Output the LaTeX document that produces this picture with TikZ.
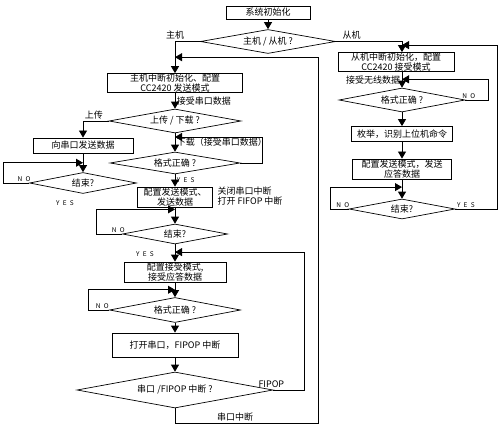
\documentclass[tikz,border=0pt]{standalone}
\usepackage{fontspec}
\setmainfont{Noto Sans CJK SC}
\usetikzlibrary{shapes.geometric,arrows.meta,positioning,calc}
\tikzset{%
procbox/.style={rectangle, draw, line width=0.8pt, inner sep=0.5pt, align=center, font=\fontsize{9}{9.5}\selectfont},
decision/.style={diamond, draw, line width=0.7pt, aspect=6, inner sep=0pt, font=\fontsize{9}{9.5}\selectfont},
pt/.style={draw, line width=0.8pt, -{Triangle[length=7pt,width=8pt]}},
lbl/.style={font=\fontsize{9}{9.5}\selectfont, inner sep=1.5pt},
yn/.style={font=\fontsize{6.5}{7}\selectfont, inner sep=1.5pt}
}

\begin{document}
\begin{tikzpicture}[x=1pt,y=-1pt]
		\useasboundingbox (0,0) rectangle (500,430);
		% master side
		\node[procbox, minimum width=84pt, minimum height=13pt] (init) at (268,12.5) {系统初始化};
		\node[decision, minimum width=135pt, minimum height=24pt] (role) [below of=init, node distance=29pt] {主机 / 从机 ?};
		\node[procbox, minimum width=135pt, minimum height=18pt] (hostinit) [below of=role, node distance=41.5pt, xshift=-93pt] {主机中断初始化、配置\\CC2420 发送模式};
		\node[decision, minimum width=132pt, minimum height=24pt] (updown) [below of=hostinit, node distance=38pt] {上传 / 下载 ?};
		\node[procbox, minimum width=100pt, minimum height=15pt] (sendpc) [below of=updown, node distance=24.5pt, xshift=-92pt] {向串口发送数据};
		\node[decision, minimum width=107pt, minimum height=21pt] (end1) [below of=sendpc, node distance=37.5pt] {结束?};
		\node[decision, minimum width=130pt, minimum height=22pt] (check1) [below of=updown, node distance=42pt] {格式正确 ?};
		\node[procbox, minimum width=75pt, minimum height=20pt] (sendcfg) [below of=check1, node distance=34pt] {配置发送模式、\\发送数据};
		\node[decision, minimum width=105pt, minimum height=20pt] (end2) [below of=sendcfg, node distance=37pt] {结束?};
		\node[procbox, minimum width=102pt, minimum height=20pt] (recvcfg) [below of=end2, node distance=38pt] {配置接受模式,\\接受应答数据};
		\node[decision, minimum width=131pt, minimum height=25pt] (check2) [below of=recvcfg, node distance=38pt] {格式正确 ?};
		\node[procbox, minimum width=126pt, minimum height=24pt] (openint) [below of=check2, node distance=35pt] {打开串口，FIPOP 中断};
		\node[decision, minimum width=196pt, minimum height=36pt] (which) [below of=openint, node distance=45pt] {串口 /FIPOP 中断 ?};
		% slave side
		\node[procbox, minimum width=116pt, minimum height=19pt] (slaveinit) [below of=role, node distance=20.5pt, xshift=128pt] {从机中断初始化，配置\\CC2420 接受模式};
		\node[decision, minimum width=126pt, minimum height=24pt] (check3) [below of=slaveinit, node distance=38pt, xshift=6pt] {格式正确 ?};
		\node[procbox, minimum width=101pt, minimum height=15pt] (enum) [below of=check3, node distance=34pt] {枚举，识别上位机命令};
		\node[procbox, minimum width=99pt, minimum height=20pt] (reply) [below of=enum, node distance=35pt] {配置发送模式，发送\\应答数据};
		\node[decision, minimum width=106pt, minimum height=20pt] (end3) [below of=reply, node distance=40pt] {结束?};

		\node[lbl, anchor=west, align=left] (note) at ($(sendcfg.east)+(3,-1)$) {关闭串口中断\\打开 FIFOP 中断};
		\node[yn] (yes1) at ($(end1.south)+(-18,9)$) {Y\enspace E\enspace S};
		\node[yn] (yes2) at ($(end2.south)+(-30,10)$) {Y\enspace E\enspace S};

		\coordinate (e1in) at ($(sendpc.south)!0.5!(end1.north)$);
		\coordinate (c1in) at ($(updown.south)!0.2!(check1.north)$);
		\coordinate (e2in) at ($(sendcfg.south)!0.12!(end2.north)$);
		\coordinate (fin) at ($(end2.south)!0.45!(recvcfg.north)$);
		\coordinate (c2in) at ($(recvcfg.south)!0.5!(check2.north)$);
		\coordinate (hin) at ($(hostinit.north)+(0,-16)$);
		\coordinate (c3in) at ($(slaveinit.south -| check3)!0.47!(check3.north)$);
		\coordinate (e3in) at ($(reply.south)!0.4!(end3.north)$);
		\coordinate (sin) at ($(slaveinit.north -| check3)+(0,-7)$);

		\draw[pt] (init) -- (role);
		\draw[pt] (role.west) -| node[lbl, above] {主机} (hostinit.north);
		\draw[pt] (role.east) -| node[lbl, above, pos=0.12] {从机} (slaveinit.north -| check3);
		\draw[pt] (hostinit) -- node[lbl, right] {接受串口数据} (updown);
		\draw[pt] (updown.west) -| node[lbl, above right] {上传} (sendpc.north);
		\draw[pt] (sendpc) -- (end1);
		\draw[pt] (end1.west) -- node[yn, above, pos=0.2] {N\enspace O} ++(-26,0) |- (e1in);
		\draw[pt] (updown) -- node[lbl, right] {下载（接受串口数据）} (check1);
		\draw[pt] (check1.east) -- ++(22,0) |- (c1in);
		\draw[pt] (check1) -- node[yn, right] {Y\enspace E\enspace S} (sendcfg);
		\draw[pt] (sendcfg) -- (end2);
		\draw[pt] (end2.west) -- node[yn, above, pos=0.15] {N\enspace O} ++(-26,0) |- (e2in);
		\draw[pt] (end2) -- (recvcfg);
		\draw[pt] (which.east) -- node[lbl, above, pos=0, xshift=-2pt] {FIPOP} ++(31,0) |- (fin);
		\draw[pt] (recvcfg) -- (check2);
		\draw[pt] (check2.west) -- node[yn, above, pos=0.33] {N\enspace O} ++(-21,0) |- (c2in);
		\draw[pt] (check2) -- (openint);
		\draw[pt] (openint) -- (which);
		\draw[pt] (which.south) -- ++(0,15) -- node[lbl, above, pos=0.42] {串口中断} ++(143,0) |- (hin);

		\draw[pt] (slaveinit.south -| check3) -- node[lbl, left] {接受无线数据} (check3);
		\draw[pt] (check3.east) -- node[yn, above, pos=0.15] {N\enspace O} ++(23,0) |- (c3in);
		\draw[pt] (check3) -- (enum);
		\draw[pt] (enum) -- (reply);
		\draw[pt] (reply) -- (end3);
		\draw[pt] (end3.west) -- node[yn, above, pos=0.33] {N\enspace O} ++(-18,0) |- (e3in);
		\draw[pt] (end3.east) -- node[yn, above, pos=0.25] {Y\enspace E\enspace S} ++(42,0) |- (sin);
\end{tikzpicture}
\end{document}
